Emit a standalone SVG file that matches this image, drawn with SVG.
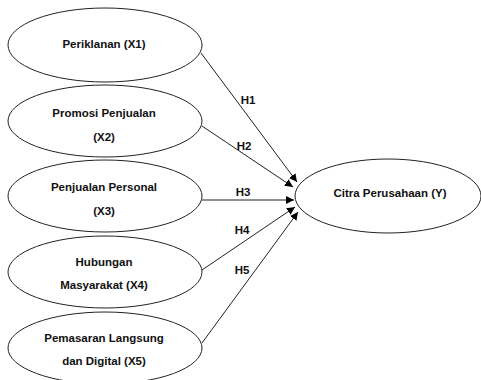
<svg xmlns="http://www.w3.org/2000/svg" width="481" height="380" viewBox="0 0 481 380">
<defs>
<marker id="arr" viewBox="0 0 10 10" refX="10" refY="5" markerWidth="8" markerHeight="8" markerUnits="userSpaceOnUse" orient="auto">
<path d="M0,0 L10,5 L0,10 z" fill="#000"/>
</marker>
<style>
.n{fill:#fff;stroke:#222;stroke-width:1}
.t{font-family:"Liberation Sans",Arial,sans-serif;font-size:11.5px;font-weight:bold;fill:#111;text-anchor:middle}
.c{stroke:#222;stroke-width:1;fill:none;marker-end:url(#arr)}
</style>
</defs>
<rect width="481" height="380" fill="#fff"/>
<g id="connectors">
<line class="c" x1="201" y1="53" x2="297" y2="182"/>
<line class="c" x1="202" y1="126" x2="293" y2="187"/>
<line class="c" x1="202" y1="200" x2="294" y2="200"/>
<line class="c" x1="202" y1="270" x2="295" y2="207"/>
<line class="c" x1="202" y1="343" x2="298" y2="212"/>
<text class="t" x="248" y="104">H1</text>
<text class="t" x="244" y="150">H2</text>
<text class="t" x="243" y="196">H3</text>
<text class="t" x="242" y="234">H4</text>
<text class="t" x="242" y="274">H5</text>
</g>
<g id="x1">
<ellipse class="n" cx="105" cy="45" rx="97" ry="37"/>
<text class="t" x="104" y="48">Periklanan (X1)</text>
</g>
<g id="x2">
<ellipse class="n" cx="105" cy="121" rx="97" ry="36"/>
<text class="t" x="104" y="117">Promosi Penjualan</text>
<text class="t" x="104" y="141">(X2)</text>
</g>
<g id="x3">
<ellipse class="n" cx="105" cy="196" rx="97" ry="36"/>
<text class="t" x="104" y="191">Penjualan Personal</text>
<text class="t" x="104" y="215">(X3)</text>
</g>
<g id="x4">
<ellipse class="n" cx="105" cy="272" rx="97" ry="36"/>
<text class="t" x="104" y="266">Hubungan</text>
<text class="t" x="104" y="289">Masyarakat (X4)</text>
</g>
<g id="x5">
<ellipse class="n" cx="105" cy="348" rx="97" ry="36"/>
<text class="t" x="104" y="342">Pemasaran Langsung</text>
<text class="t" x="104" y="365">dan Digital (X5)</text>
</g>
<g id="y">
<ellipse class="n" cx="388" cy="196" rx="93" ry="37"/>
<text class="t" x="390" y="197">Citra Perusahaan (Y)</text>
</g>
</svg>
